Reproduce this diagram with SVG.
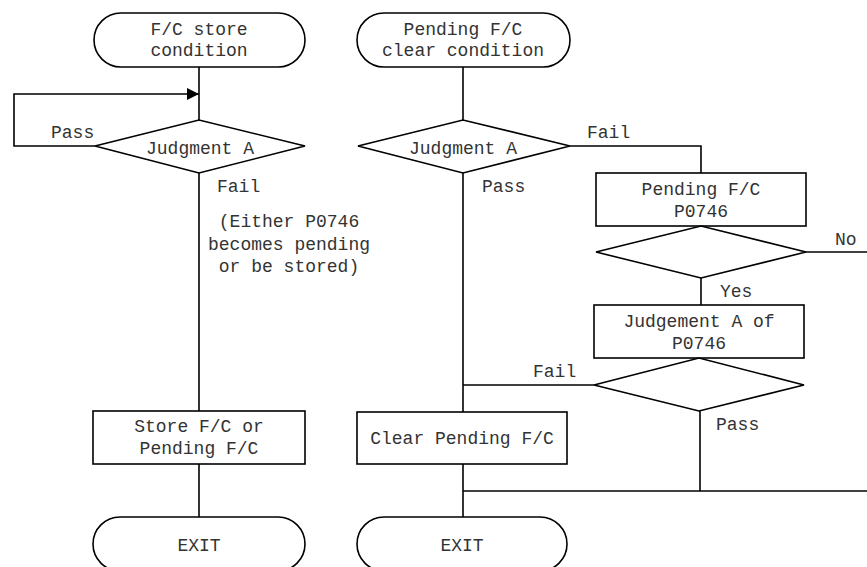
<svg xmlns="http://www.w3.org/2000/svg" width="867" height="567" viewBox="0 0 867 567">
  <style>
    .shape { fill: #ffffff; stroke: #000000; stroke-width: 1.6; }
    .wire { fill: none; stroke: #000000; stroke-width: 1.6; }
    text { font-family: "Liberation Mono", "Courier New", monospace; font-size: 18px; fill: #333333; }
    .c { text-anchor: middle; }
  </style>
  <defs>
    <marker id="arrow" markerWidth="12" markerHeight="12" refX="12" refY="6" orient="auto" markerUnits="userSpaceOnUse">
      <path d="M0,0 L12,6 L0,12 Z" fill="#000000"/>
    </marker>
  </defs>
  <rect width="867" height="567" fill="#ffffff"/>

  <!-- connectors -->
  <g id="connectors">
    <!-- left flow -->
    <line class="wire" x1="199" y1="67" x2="199" y2="120"/>
    <path class="wire" d="M95,146 H14 V94 H199" marker-end="url(#arrow)"/>
    <line class="wire" x1="199" y1="173" x2="199" y2="411"/>
    <line class="wire" x1="199" y1="464" x2="199" y2="517"/>
    <!-- right flow -->
    <line class="wire" x1="463" y1="67" x2="463" y2="120"/>
    <path class="wire" d="M570,146 H701 V173"/>
    <line class="wire" x1="463" y1="173" x2="463" y2="412"/>
    <line class="wire" x1="806" y1="252" x2="867" y2="252"/>
    <line class="wire" x1="701" y1="278" x2="701" y2="305"/>
    <line class="wire" x1="594" y1="385" x2="463" y2="385"/>
    <line class="wire" x1="700" y1="411" x2="700" y2="491"/>
    <line class="wire" x1="463" y1="491" x2="867" y2="491"/>
    <line class="wire" x1="463" y1="464" x2="463" y2="517"/>
  </g>

  <!-- connector labels -->
  <g id="labels">
    <text x="51" y="138">Pass</text>
    <text x="217" y="192">Fail</text>
    <text x="289" y="227" class="c">(Either P0746</text>
    <text x="289" y="250" class="c">becomes pending</text>
    <text x="289" y="272" class="c">or be stored)</text>
    <text x="587" y="138">Fail</text>
    <text x="482" y="192">Pass</text>
    <text x="835" y="245">No</text>
    <text x="720" y="297">Yes</text>
    <text x="533" y="377">Fail</text>
    <text x="716" y="430">Pass</text>
  </g>

  <g id="start-store">
    <rect class="shape" x="94" y="13" width="211" height="54" rx="27" ry="27"/>
    <text x="199" y="35" class="c">F/C store</text>
    <text x="199" y="56" class="c">condition</text>
  </g>

  <g id="judge-store">
    <polygon class="shape" points="95,146 199,120 305,146 199,173"/>
    <text x="200" y="154" class="c">Judgment A</text>
  </g>

  <g id="store-fc">
    <rect class="shape" x="93" y="411" width="212" height="53"/>
    <text x="199" y="432" class="c">Store F/C or</text>
    <text x="199" y="454" class="c">Pending F/C</text>
  </g>

  <g id="exit-store">
    <rect class="shape" x="93" y="517" width="212" height="54" rx="27" ry="27"/>
    <text x="199" y="551" class="c">EXIT</text>
  </g>

  <g id="start-clear">
    <rect class="shape" x="357" y="13" width="213" height="54" rx="27" ry="27"/>
    <text x="463" y="35" class="c">Pending F/C</text>
    <text x="463" y="56" class="c">clear condition</text>
  </g>

  <g id="judge-clear">
    <polygon class="shape" points="358,146 463,120 570,146 463,173"/>
    <text x="463" y="154" class="c">Judgment A</text>
  </g>

  <g id="pending-fc">
    <rect class="shape" x="596" y="173" width="210" height="53"/>
    <text x="701" y="195" class="c">Pending F/C</text>
    <text x="701" y="217" class="c">P0746</text>
  </g>

  <g id="pending-check">
    <polygon class="shape" points="596,252 701,226 806,252 701,278"/>
  </g>

  <g id="judge-p0746">
    <rect class="shape" x="594" y="305" width="210" height="53"/>
    <text x="699" y="327" class="c">Judgement A of</text>
    <text x="699" y="349" class="c">P0746</text>
  </g>

  <g id="judge-p0746-result">
    <polygon class="shape" points="594,385 699,358 804,385 699,411"/>
  </g>

  <g id="clear-fc">
    <rect class="shape" x="357" y="412" width="210" height="52"/>
    <text x="462" y="444" class="c">Clear Pending F/C</text>
  </g>

  <g id="exit-clear">
    <rect class="shape" x="357" y="517" width="210" height="54" rx="27" ry="27"/>
    <text x="462" y="551" class="c">EXIT</text>
  </g>
</svg>
